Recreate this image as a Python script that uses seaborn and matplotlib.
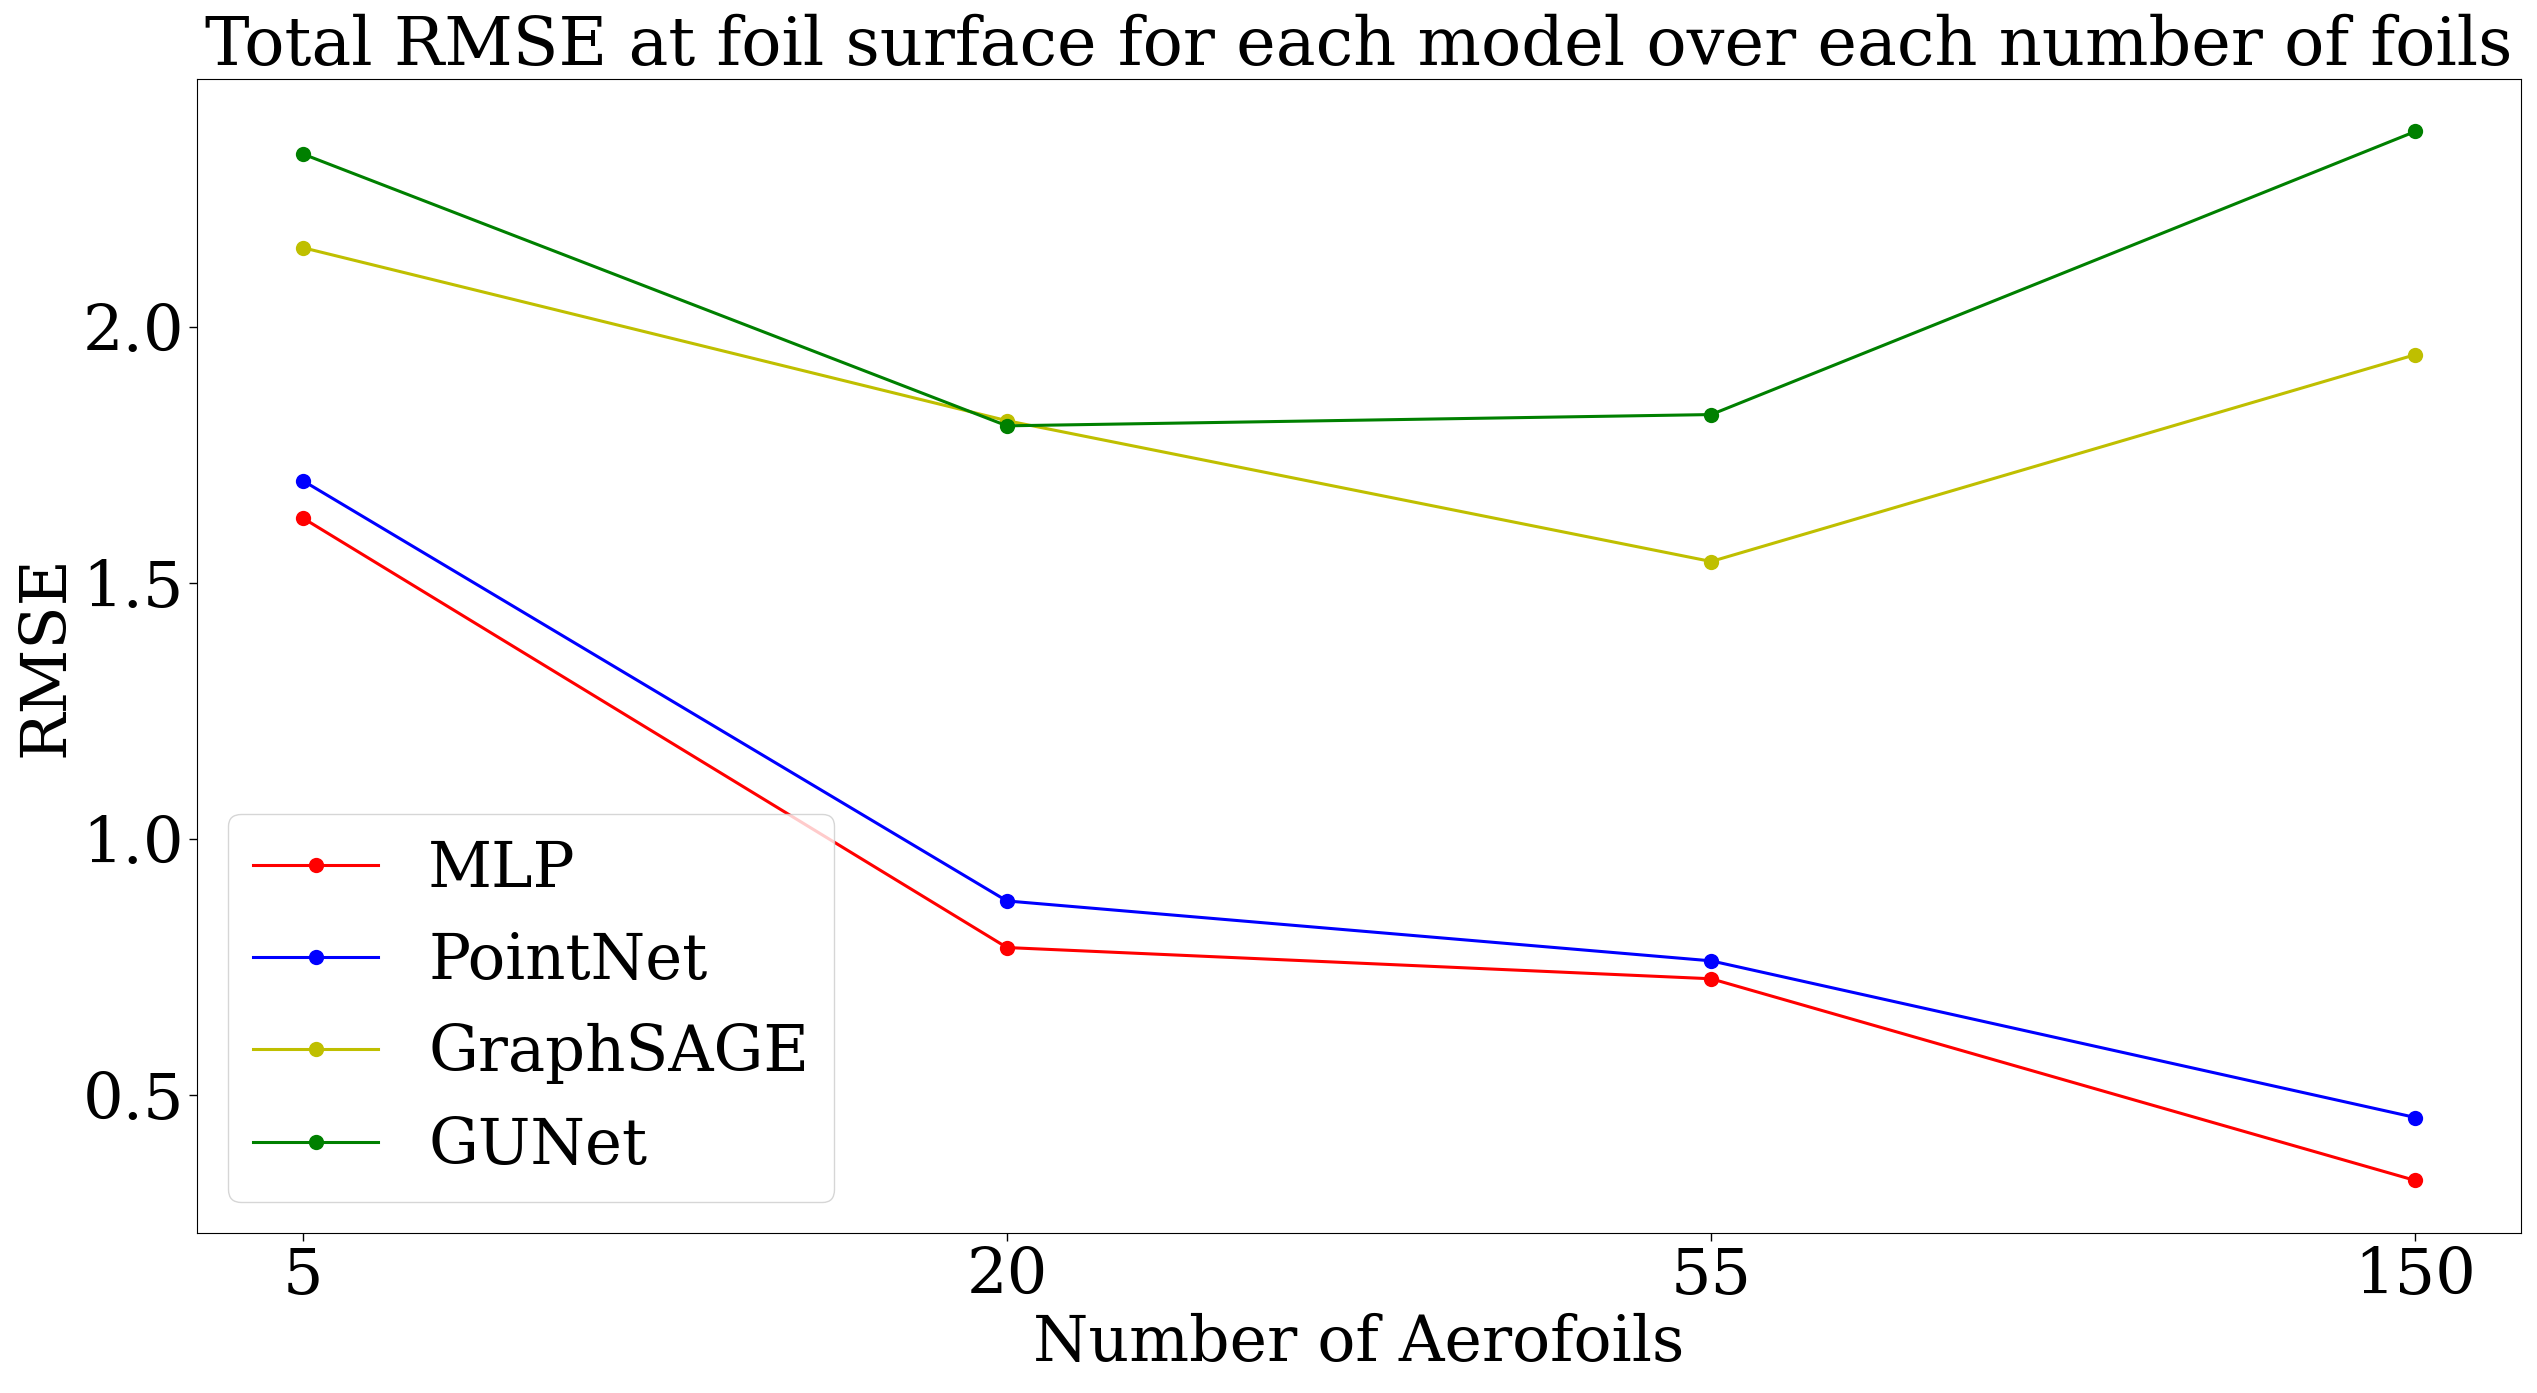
import matplotlib

matplotlib.use("Agg")
import matplotlib.pyplot as plt
import pandas as pd
import seaborn as sns

# Данные
n_foils = ["5", "20", "55", "150"]
models = ["MLP", "PointNet", "GraphSAGE", "GUNet"]
mlp_rmse = [1.627, 0.788, 0.727, 0.333]
pointnet_rmse = [1.700, 0.879, 0.762, 0.456]
graphsage_rmse = [2.155, 1.817, 1.542, 1.946]
gunet_rmse = [2.338, 1.807, 1.829, 2.382]
colors = {"MLP": "r", "PointNet": "b", "GraphSAGE": "y", "GUNet": "g"}

FONT_SIZE = 46

plt.rcParams["font.family"] = ["DejaVu Serif"]
plt.rcParams["font.size"] = FONT_SIZE


def build_frame() -> pd.DataFrame:
    series = [mlp_rmse, pointnet_rmse, graphsage_rmse, gunet_rmse]
    rows = []
    for name, values in zip(models, series):
        for n, v in zip(n_foils, values):
            rows.append({"model": name, "foils": n, "rmse": v})
    return pd.DataFrame(rows)


def main() -> None:
    df = build_frame()
    fig, ax = plt.subplots(figsize=(25.37, 13.93), dpi=100)
    fig.subplots_adjust(left=0.0777, right=0.9937, top=0.9433, bottom=0.1149)

    for name in models:
        sub = df[df["model"] == name]
        sns.lineplot(
            data=sub,
            x="foils",
            y="rmse",
            color=colors[name],
            marker="o",
            markersize=11,
            markeredgewidth=0,
            linewidth=2.2,
            label=name,
            ax=ax,
        )

    ax.set_title("Total RMSE at foil surface for each model over each number of foils",
                 fontsize=48.2)
    ax.set_xlabel("Number of Aerofoils", fontsize=45.5)
    ax.set_ylabel("RMSE", fontsize=45.5)
    ax.set_yticks([0.5, 1.0, 1.5, 2.0])
    ax.tick_params(labelsize=FONT_SIZE, length=6, width=1)
    ax.legend(loc="lower left", fontsize=45)

    fig.savefig("out.png", dpi=100)
    plt.close(fig)


if __name__ == "__main__":
    main()
